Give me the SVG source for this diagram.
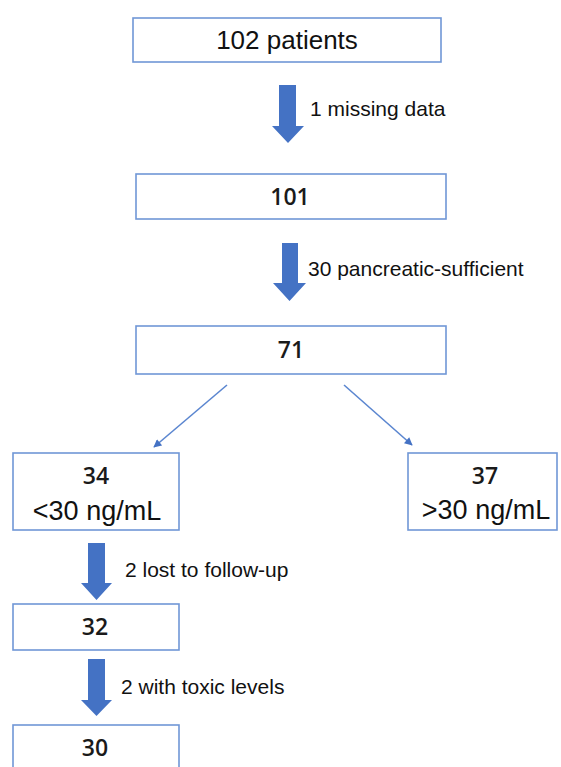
<svg xmlns="http://www.w3.org/2000/svg" width="561" height="767" viewBox="0 0 561 767">
<style>
.box{fill:#ffffff;stroke:#7097d6;stroke-width:1.6}
.big{fill:#4472c4}
.lbl{font-family:"Liberation Sans",Arial,sans-serif;font-size:21px;fill:#111}
.ar{font-family:"Liberation Sans",Arial,sans-serif;fill:#111;text-anchor:middle}
.num{font-family:"Open Sans","Noto Sans",sans-serif;font-weight:600;font-size:23px;fill:#1a1a1a;text-anchor:middle}
.thin{stroke:#5b86d0;stroke-width:1.6;fill:none}
</style>
<defs>
<marker id="ah" viewBox="0 0 10 10" refX="9" refY="5" markerWidth="9" markerHeight="8" orient="auto" markerUnits="userSpaceOnUse">
<path d="M0,0 L10,5 L0,10 z" fill="#4472c4"/>
</marker>
</defs>
<rect width="561" height="767" fill="#ffffff"/>
<g id="connectors">
<path class="big" d="M279,85 H296 V126 H304 L288,143 L272,126 H279 Z"/>
<path class="big" d="M282,243 H298 V283 H306 L289.5,301 L273,283 H282 Z"/>
<path class="big" d="M88,543 H105 V583 H112 L96.5,600 L81,583 H88 Z"/>
<path class="big" d="M88,659 H105 V700 H112 L96.5,716 L81,700 H88 Z"/>
<line class="thin" x1="227" y1="385" x2="154" y2="447" marker-end="url(#ah)"/>
<line class="thin" x1="344" y1="385" x2="412" y2="445" marker-end="url(#ah)"/>
<text class="lbl" x="310" y="116">1 missing data</text>
<text class="lbl" x="308" y="276">30 pancreatic-sufficient</text>
<text class="lbl" x="125" y="577">2 lost to follow-up</text>
<text class="lbl" x="121" y="694">2 with toxic levels</text>
</g>
<g id="n102">
<rect class="box" x="133" y="18" width="308" height="44"/>
<text class="ar" x="287" y="49" font-size="26">102 patients</text>
</g>
<g id="n101">
<rect class="box" x="136" y="174" width="310" height="45"/>
<text class="num" x="290" y="205">101</text>
</g>
<g id="n71">
<rect class="box" x="136" y="326" width="310" height="48"/>
<text class="num" x="291" y="358">71</text>
</g>
<g id="n34">
<rect class="box" x="13" y="453" width="166" height="77"/>
<text class="num" x="96" y="484">34</text>
<text class="ar" x="97" y="520" font-size="27">&lt;30 ng/mL</text>
</g>
<g id="n37">
<rect class="box" x="408" y="453" width="149" height="77"/>
<text class="num" x="485" y="484">37</text>
<text class="ar" x="486" y="519" font-size="27">&gt;30 ng/mL</text>
</g>
<g id="n32">
<rect class="box" x="13" y="604" width="166" height="46"/>
<text class="num" x="95" y="635">32</text>
</g>
<g id="n30">
<rect class="box" x="13" y="725" width="166" height="46"/>
<text class="num" x="95" y="756">30</text>
</g>
</svg>
